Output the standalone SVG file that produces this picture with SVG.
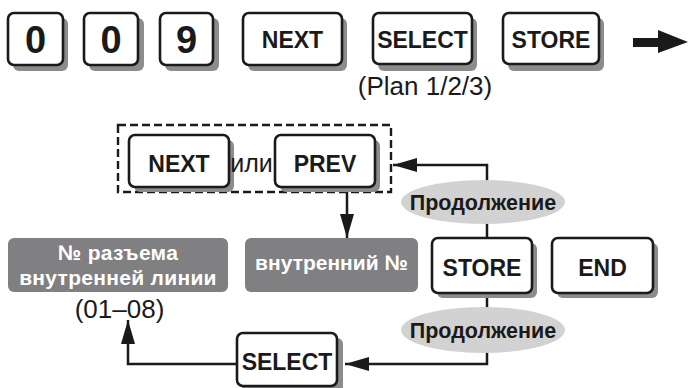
<svg xmlns="http://www.w3.org/2000/svg" width="689" height="388" viewBox="0 0 689 388">
<defs>
<style>
.sh{fill:#8c8c8c}
.key{fill:#fff;stroke:#1a1a1a;stroke-width:2.6}
.kt{font-family:"Liberation Sans",Arial,sans-serif;font-weight:bold;font-size:23px;fill:#1a1a1a;text-anchor:middle}
.dg{font-family:"Liberation Sans",Arial,sans-serif;font-weight:bold;font-size:38px;fill:#1a1a1a;text-anchor:middle}
.rt{font-family:"Liberation Sans",Arial,sans-serif;font-size:26px;fill:#1a1a1a;text-anchor:middle}
.gb{fill:#808083}
.gt{font-family:"Liberation Sans",Arial,sans-serif;font-weight:bold;font-size:21px;fill:#fff;text-anchor:middle}
.el{fill:#d2d2d3}
.et{font-family:"Liberation Sans",Arial,sans-serif;font-weight:bold;font-size:21.5px;fill:#1a1a1a;text-anchor:middle}
.ln{fill:none;stroke:#1a1a1a;stroke-width:2.5}
</style>
<marker id="ah" viewBox="0 0 24 14" refX="24" refY="7" markerWidth="24" markerHeight="14" markerUnits="userSpaceOnUse" orient="auto">
<path d="M0,0 L24,7 L0,14 Z" fill="#1a1a1a"/>
</marker>
</defs>

<g id="key-0a"><rect class="sh" x="13" y="18" width="55" height="53" rx="6"/><rect class="key" x="8" y="13" width="55" height="52" rx="6"/><text class="dg" x="35.5" y="53">0</text></g>
<g id="key-0b"><rect class="sh" x="89" y="18" width="55" height="53" rx="6"/><rect class="key" x="84" y="13" width="54" height="52" rx="6"/><text class="dg" x="111" y="53">0</text></g>
<g id="key-9"><rect class="sh" x="165" y="18" width="54" height="53" rx="6"/><rect class="key" x="160" y="13" width="53" height="52" rx="6"/><text class="dg" x="186.5" y="53">9</text></g>
<g id="key-next-top"><rect class="sh" x="248" y="18" width="99" height="53" rx="6"/><rect class="key" x="243" y="13" width="99" height="52" rx="6"/><text class="kt" x="292.5" y="48">NEXT</text></g>
<g id="key-select-top"><rect class="sh" x="378" y="18" width="99" height="53" rx="6"/><rect class="key" x="373" y="13" width="99" height="51" rx="6"/><text class="kt" x="422.5" y="48">SELECT</text></g>
<g id="key-store-top"><rect class="sh" x="508" y="18" width="96" height="53" rx="6"/><rect class="key" x="503" y="13" width="96" height="51" rx="6"/><text class="kt" x="551" y="48">STORE</text></g>
<g id="plan-label"><text class="rt" x="425" y="95">(Plan 1/2/3)</text></g>
<g id="big-arrow"><path d="M633,38 H658 V30 L688,42 L658,53 V47 H633 Z" fill="#1a1a1a"/></g>

<g id="group-next-prev">
<rect x="118" y="125" width="273" height="67" fill="none" stroke="#1a1a1a" stroke-width="2.4" stroke-dasharray="8,4"/>
<g id="key-next"><rect class="sh" x="134" y="140" width="100" height="52" rx="6"/><rect class="key" x="129" y="135" width="100" height="52" rx="6"/><text class="kt" x="179" y="172">NEXT</text></g>
<text id="ili" x="251.5" y="172" font-family="Liberation Sans,Arial,sans-serif" font-size="25" fill="#1a1a1a" text-anchor="middle">или</text>
<g id="key-prev"><rect class="sh" x="280" y="140" width="100" height="52" rx="6"/><rect class="key" x="275" y="135" width="100" height="52" rx="6"/><text class="kt" x="325" y="172">PREV</text></g>
</g>

<g id="connectors">
<path class="ln" d="M347,192 V238" marker-end="url(#ah)"/>
<path class="ln" d="M487,238 V165 H393" marker-end="url(#ah)"/>
<path class="ln" d="M487,293 V364 H345" marker-end="url(#ah)"/>
<path class="ln" d="M237,364 H128 V320" marker-end="url(#ah)"/>
</g>

<g id="box-port"><rect class="gb" x="8" y="238" width="220" height="54" rx="6"/><text class="gt" x="118" y="260" letter-spacing="0.3">№ разъема</text><text class="gt" x="118" y="284.5" letter-spacing="0.3">внутренней линии</text></g>
<g id="range"><text class="rt" x="119.5" y="318">(01–08)</text></g>
<g id="box-ext"><rect class="gb" x="245" y="238" width="173" height="54" rx="6"/><text class="gt" x="331.5" y="270" font-size="22px">внутренний №</text></g>

<g id="cont-1"><ellipse class="el" cx="483" cy="202" rx="82" ry="22"/><text class="et" x="483" y="210">Продолжение</text></g>
<g id="cont-2"><ellipse class="el" cx="483" cy="330" rx="82" ry="23"/><text class="et" x="483" y="338">Продолжение</text></g>

<g id="key-store"><rect class="sh" x="437" y="243" width="100" height="55" rx="6"/><rect class="key" x="432" y="238" width="100" height="55" rx="6"/><text class="kt" x="482" y="276">STORE</text></g>
<g id="key-end"><rect class="sh" x="557" y="243" width="101" height="55" rx="6"/><rect class="key" x="552" y="238" width="101" height="55" rx="6"/><text class="kt" x="602.5" y="276">END</text></g>
<g id="key-select"><rect class="sh" x="242" y="338" width="101" height="55" rx="6"/><rect class="key" x="237" y="333" width="100" height="53" rx="6"/><text class="kt" x="287" y="370">SELECT</text></g>
</svg>
